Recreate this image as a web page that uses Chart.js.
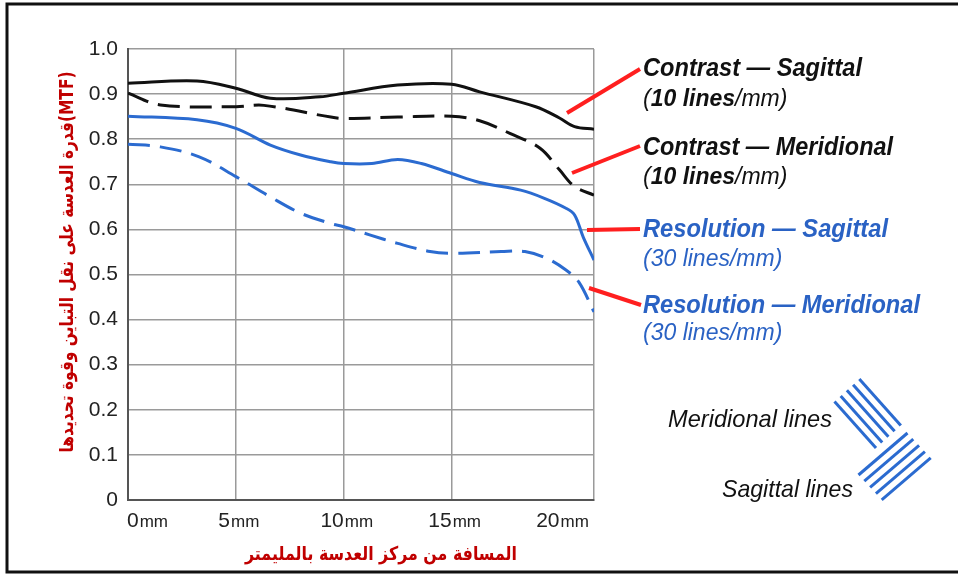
<!DOCTYPE html>
<html>
<head>
<meta charset="utf-8">
<title>MTF</title>
<script src="https://cdn.jsdelivr.net/npm/chart.js@4.4.1/dist/chart.umd.min.js"></script>
<style>
  html, body { margin: 0; padding: 0; background: #fff; }
</style>
</head>
<body>
<canvas id="mtf-chart" width="958" height="575"></canvas>
<script>
// distance from lens centre (mm) and MTF values
const contrastSagX = [0, 3.2, 5, 6.6, 8.9, 10, 12.5, 15, 16.3, 18.9, 20, 20.7, 21.6];
const contrastSagY = [0.924, 0.929, 0.913, 0.891, 0.894, 0.902, 0.92, 0.922, 0.905, 0.872, 0.847, 0.828, 0.822];

const contrastMerX = [0, 1.5, 5, 6.3, 9.4, 10, 12.5, 15, 16.3, 17.7, 19.1, 20, 20.7, 21.6];
const contrastMerY = [0.902, 0.876, 0.872, 0.875, 0.849, 0.846, 0.849, 0.851, 0.841, 0.813, 0.78, 0.732, 0.695, 0.676];

const resSagX = [0, 3.2, 5, 6.6, 8, 9.4, 10, 11.3, 12.5, 13.6, 15, 16.3, 18.2, 19.3, 20.3, 20.7, 21.1, 21.6];
const resSagY = [0.851, 0.843, 0.824, 0.787, 0.765, 0.75, 0.746, 0.746, 0.755, 0.746, 0.724, 0.704, 0.687, 0.669, 0.647, 0.632, 0.583, 0.532];

const resMerX = [0, 1.5, 3.3, 5, 6.6, 8, 9.4, 10, 11.2, 12.5, 14, 15, 17.3, 18.4, 19.4, 20.3, 20.9, 21.6];
const resMerY = [0.789, 0.783, 0.761, 0.717, 0.672, 0.636, 0.613, 0.606, 0.588, 0.569, 0.551, 0.547, 0.551, 0.551, 0.536, 0.51, 0.483, 0.417];

const xTickValues = [0, 5, 10, 15, 20];
const xTickUnit = 'mm';
const xMax = 21.6;

const yAxisTitle = 'قدرة العدسة على نقل التباين وقوة تحديدها(MTF)';
const xAxisTitle = 'المسافة من مركز العدسة بالمليمتر';

const BLACK = '#111111';
const BLUE = '#2b6bd0';
const BLUE_TEXT = '#2a62c4';
const RED = '#ff1f1f';
const DARK_RED = '#c00000';

function toPoints(xs, ys) {
    return xs.map((x, i) => ({ x: x, y: ys[i] }));
}

// frame, axis titles, x tick labels, legend callouts and the line sketch
const decorPlugin = {
    id: 'decor',
    afterDraw(chart) {
        const ctx = chart.ctx;
        const xs = chart.scales.x;
        ctx.save();

        // outer frame
        ctx.strokeStyle = '#111';
        ctx.lineWidth = 3;
        ctx.strokeRect(7, 4, 960, 568);

        // x tick labels: big number + small unit
        ctx.fillStyle = '#222';
        ctx.textBaseline = 'alphabetic';
        ctx.textAlign = 'left';
        xTickValues.forEach(v => {
            const label = String(v);
            ctx.font = '21px "Liberation Sans", Arial, sans-serif';
            const wd = ctx.measureText(label).width;
            ctx.font = '17px "Liberation Sans", Arial, sans-serif';
            const wu = ctx.measureText(xTickUnit).width;
            const px = xs.getPixelForValue(v);
            let left = px - (wd + wu + 1) / 2 + 3;
            if (left < xs.left - 1) { left = xs.left - 1; }
            ctx.font = '21px "Liberation Sans", Arial, sans-serif';
            ctx.fillText(label, left, 527);
            ctx.font = '17px "Liberation Sans", Arial, sans-serif';
            ctx.fillText(xTickUnit, left + wd + 1, 527);
        });

        // axis titles
        ctx.fillStyle = DARK_RED;
        ctx.textAlign = 'center';
        ctx.textBaseline = 'middle';
        ctx.font = 'bold 19px "DejaVu Sans", sans-serif';
        ctx.fillText(xAxisTitle, 381, 555, 272);
        ctx.save();
        ctx.translate(68, 262);
        ctx.rotate(-Math.PI / 2);
        ctx.fillText(yAxisTitle, 0, 0, 381);
        ctx.restore();

        // red pointer lines
        ctx.strokeStyle = RED;
        ctx.lineWidth = 4;
        ctx.lineCap = 'butt';
        [[567, 113, 640, 69], [572, 173, 640, 146], [587, 230, 640, 229], [589, 288, 641, 305]].forEach(l => {
            ctx.beginPath();
            ctx.moveTo(l[0], l[1]);
            ctx.lineTo(l[2], l[3]);
            ctx.stroke();
        });

        // callout texts
        ctx.textAlign = 'left';
        ctx.textBaseline = 'alphabetic';
        const drawLines = (y, color, num) => {
            ctx.fillStyle = color;
            let x = 643;
            const parts = color === BLACK
                ? [['(', ''], [num + ' lines', 'bold '], ['/mm)', '']]
                : [['(' + num + ' lines/mm)', '']];
            parts.forEach(p => {
                ctx.font = 'italic ' + p[1] + '23px "Liberation Sans", Arial, sans-serif';
                ctx.fillText(p[0], x, y);
                x += ctx.measureText(p[0]).width;
            });
        };
        ctx.font = 'italic bold 25px "Liberation Sans", Arial, sans-serif';
        ctx.fillStyle = BLACK;
        ctx.fillText('Contrast — Sagittal', 643, 76, 219);
        drawLines(106, BLACK, '10');
        ctx.font = 'italic bold 25px "Liberation Sans", Arial, sans-serif';
        ctx.fillStyle = BLACK;
        ctx.fillText('Contrast — Meridional', 643, 155, 250);
        drawLines(184, BLACK, '10');
        ctx.font = 'italic bold 25px "Liberation Sans", Arial, sans-serif';
        ctx.fillStyle = BLUE_TEXT;
        ctx.fillText('Resolution — Sagittal', 643, 237, 245);
        drawLines(266, BLUE_TEXT, '30');
        ctx.font = 'italic bold 25px "Liberation Sans", Arial, sans-serif';
        ctx.fillStyle = BLUE_TEXT;
        ctx.fillText('Resolution — Meridional', 643, 313, 277);
        drawLines(340, BLUE_TEXT, '30');

        // meridional / sagittal sketch
        ctx.fillStyle = BLACK;
        ctx.font = 'italic 24px "Liberation Sans", Arial, sans-serif';
        ctx.fillText('Meridional lines', 668, 427, 164);
        ctx.fillText('Sagittal lines', 722, 497, 131);
        ctx.strokeStyle = BLUE;
        ctx.lineWidth = 3;
        for (let i = 0; i < 5; i++) {
            ctx.beginPath();
            ctx.moveTo(834.5 + i * 6.2, 401.5 - i * 5.6);
            ctx.lineTo(876 + i * 6.2, 448 - i * 5.6);
            ctx.stroke();
            ctx.beginPath();
            ctx.moveTo(858.5 + i * 5.8, 475 + i * 6.2);
            ctx.lineTo(907.5 + i * 5.8, 433 + i * 6.2);
            ctx.stroke();
        }
        ctx.restore();
    }
};

const ctx = document.getElementById('mtf-chart').getContext('2d');

const lineStyle = (color, dashed) => ({
    borderColor: color,
    backgroundColor: color,
    borderWidth: 3,
    borderDash: dashed ? [22, 10] : [],
    pointRadius: 0,
    fill: false,
    tension: 0.35
});

const chart = new Chart(ctx, {
    type: 'line',
    data: {
        datasets: [
            { label: 'Contrast — Sagittal', data: toPoints(contrastSagX, contrastSagY), ...lineStyle(BLACK, false) },
            { label: 'Contrast — Meridional', data: toPoints(contrastMerX, contrastMerY), ...lineStyle(BLACK, true) },
            { label: 'Resolution — Sagittal', data: toPoints(resSagX, resSagY), ...lineStyle(BLUE, false) },
            { label: 'Resolution — Meridional', data: toPoints(resMerX, resMerY), ...lineStyle(BLUE, true) }
        ]
    },
    options: {
        responsive: false,
        animation: false,
        layout: {
            padding: { left: 0, top: 49, right: 364, bottom: 0 }
        },
        scales: {
            x: {
                type: 'linear',
                min: 0,
                max: xMax,
                afterFit: scale => { scale.height = 75; },
                ticks: { stepSize: 5, display: false },
                grid: { color: '#9a9a9a', lineWidth: 1.5, drawTicks: false },
                border: { color: '#555', width: 2 }
            },
            y: {
                min: 0,
                max: 1,
                afterFit: scale => { scale.width = 128; },
                ticks: {
                    stepSize: 0.1,
                    padding: 10,
                    color: '#222',
                    font: { family: '"Liberation Sans", Arial, sans-serif', size: 21 },
                    callback: v => (v === 0 ? '0' : v.toFixed(1))
                },
                grid: { color: '#9a9a9a', lineWidth: 1.5, drawTicks: false },
                border: { color: '#555', width: 2 }
            }
        },
        plugins: {
            legend: { display: false },
            tooltip: { enabled: false }
        }
    },
    plugins: [decorPlugin]
});
</script>
</body>
</html>
